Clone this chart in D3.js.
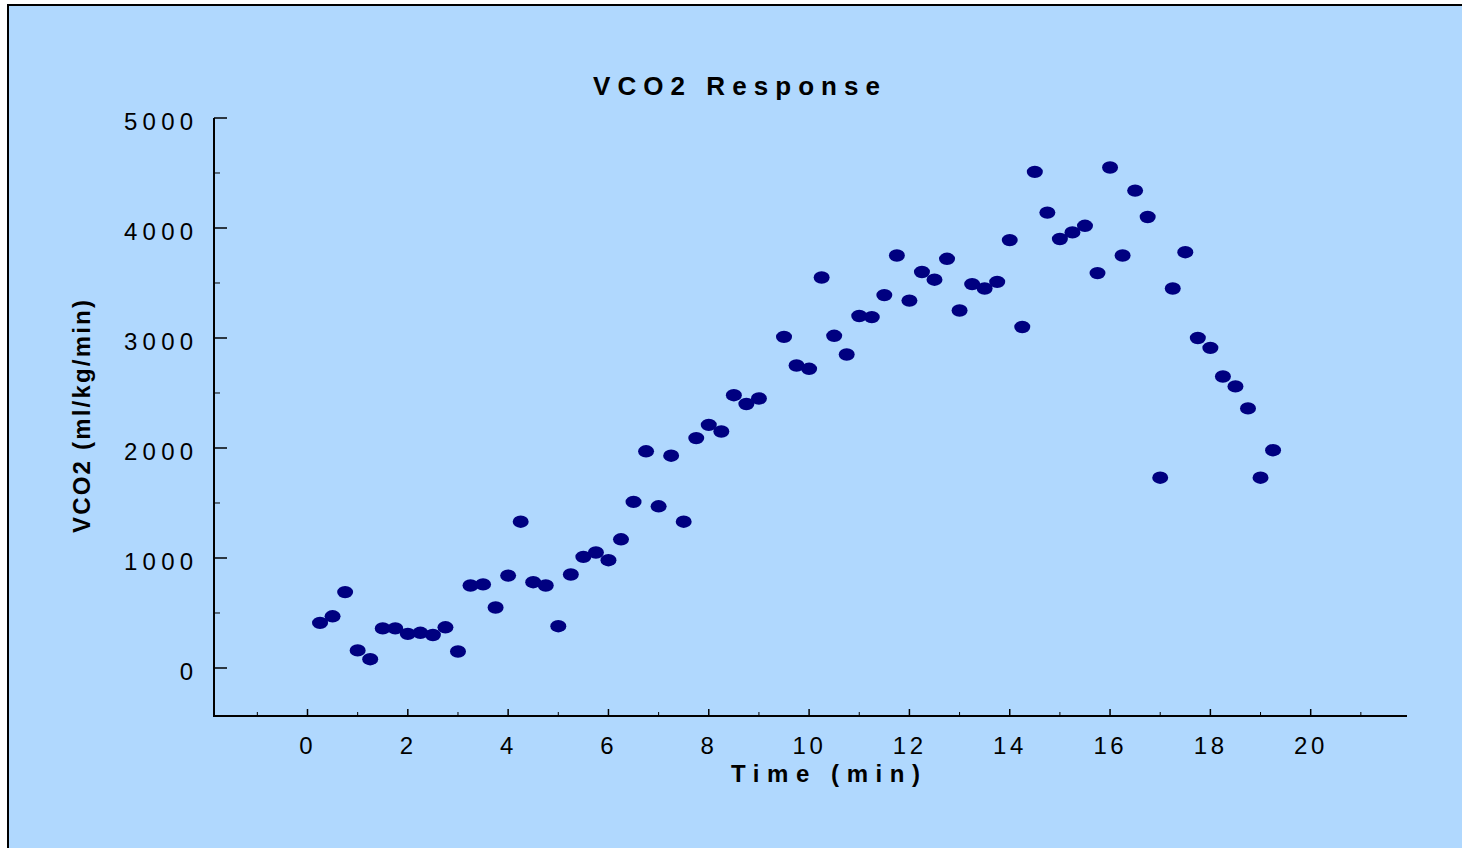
<!DOCTYPE html>
<html>
<head>
<meta charset="utf-8">
<script src="https://cdn.jsdelivr.net/npm/d3@7"></script>
<style>
  html, body { margin: 0; padding: 0; background: #ffffff; }
  svg { display: block; }
  text { font-family: "Liberation Sans Narrow", "Liberation Sans", Arial, sans-serif; fill: #000; }
</style>
</head>
<body>
<svg id="chart" width="1462" height="848"></svg>
<script>
// ---- data ----
const times = [0.25,0.5,0.75,1.0,1.25,1.5,1.75,2.0,2.25,2.5,2.75,3.0,3.25,3.5,3.75,4.0,4.25,4.5,4.75,5.0,
  5.25,5.5,5.75,6.0,6.25,6.5,6.75,7.0,7.25,7.5,7.75,8.0,8.25,8.5,8.75,9.0,
  9.5,9.75,10.0,10.25,10.5,10.75,11.0,11.25,11.5,11.75,12.0,12.25,12.5,12.75,13.0,13.25,13.5,13.75,14.0,14.25,
  14.5,14.75,15.0,15.25,15.5,15.75,16.0,16.25,16.5,16.75,17.0,17.25,17.5,17.75,18.0,18.25,18.5,18.75,19.0,19.25];
const vco2 = [410,470,690,160,80,360,360,310,320,300,370,150,750,760,550,840,1330,780,750,380,
  850,1010,1050,980,1170,1510,1970,1470,1930,1330,2090,2210,2150,2480,2400,2450,
  3010,2750,2720,3550,3020,2850,3200,3190,3390,3750,3340,3600,3530,3720,3250,3490,3450,3510,3890,3100,
  4510,4140,3900,3960,4020,3590,4550,3750,4340,4100,1730,3450,3780,3000,2910,2650,2560,2360,1730,1980];
const yTicks = [0,1000,2000,3000,4000,5000];
const yMinorTicks = [500,1500,2500,3500,4500];
const xTicks = [0,2,4,6,8,10,12,14,16,18,20];
const xMinorTicks = [-1,1,3,5,7,9,11,13,15,17,19,21];
const titleText = "VCO2 Response";
const xLabelText = "Time (min)";
const yLabelText = "VCO2 (ml/kg/min)";

// ---- layout ----
const svg = d3.select("#chart");
const plotL = 214, plotR = 1407, plotT = 118, plotB = 716;
const x = d3.scaleLinear().domain([-1.864, 21.92]).range([plotL, plotR]);
const y = d3.scaleLinear().domain([-436.4, 5000]).range([plotB, plotT]);

// background + border
svg.append("rect").attr("x", 8).attr("y", 5).attr("width", 1470).attr("height", 860)
  .attr("fill", "#B0D8FE").attr("stroke", "#000").attr("stroke-width", 2);

// title
svg.append("text").attr("x", 593).attr("y", 95)
  .attr("font-size", 26).attr("font-weight", "bold")
  .attr("textLength", 287).attr("lengthAdjust", "spacing")
  .text(titleText);

// axes lines
svg.append("line").attr("x1", plotL).attr("x2", plotL).attr("y1", plotT).attr("y2", plotB + 1)
  .attr("stroke", "#000").attr("stroke-width", 2);
svg.append("line").attr("x1", plotL - 1).attr("x2", plotR).attr("y1", plotB).attr("y2", plotB)
  .attr("stroke", "#000").attr("stroke-width", 2);

// y ticks
svg.append("g").selectAll("line").data(yTicks).join("line")
  .attr("x1", plotL).attr("x2", plotL + 13)
  .attr("y1", d => y(d)).attr("y2", d => y(d))
  .attr("stroke", "#000").attr("stroke-width", 1.5);
svg.append("g").selectAll("line").data(yMinorTicks).join("line")
  .attr("x1", plotL).attr("x2", plotL + 6)
  .attr("y1", d => y(d)).attr("y2", d => y(d))
  .attr("stroke", "#000").attr("stroke-width", 1);
svg.append("g").selectAll("text").data(yTicks).join("text")
  .attr("x", 193).attr("y", d => y(d) + 12)
  .attr("text-anchor", "end").attr("font-size", 24)
  .each(function(d) {
    const s = String(d);
    const el = d3.select(this).text(s);
    if (s.length > 1) el.attr("textLength", 19.3 * (s.length - 1) + 11).attr("lengthAdjust", "spacing");
  });

// x ticks
svg.append("g").selectAll("line").data(xTicks).join("line")
  .attr("x1", d => x(d)).attr("x2", d => x(d))
  .attr("y1", plotB).attr("y2", plotB - 7)
  .attr("stroke", "#000").attr("stroke-width", 1.5);
svg.append("g").selectAll("line").data(xMinorTicks).join("line")
  .attr("x1", d => x(d)).attr("x2", d => x(d))
  .attr("y1", plotB).attr("y2", plotB - 4)
  .attr("stroke", "#000").attr("stroke-width", 1);
svg.append("g").selectAll("text").data(xTicks).join("text")
  .attr("x", d => x(d) - 1.5).attr("y", 754)
  .attr("text-anchor", "middle").attr("font-size", 24)
  .each(function(d) {
    const s = String(d);
    const el = d3.select(this).text(s);
    if (s.length > 1) el.attr("textLength", 19.3 * (s.length - 1) + 11).attr("lengthAdjust", "spacing");
  });

// axis titles
svg.append("text").attr("x", 731).attr("y", 782)
  .attr("font-size", 24).attr("font-weight", "bold")
  .attr("textLength", 189).attr("lengthAdjust", "spacing")
  .text(xLabelText);
svg.append("text").attr("transform", "translate(90,533) rotate(-90)")
  .attr("font-size", 24).attr("font-weight", "bold")
  .attr("textLength", 233).attr("lengthAdjust", "spacing")
  .text(yLabelText);

// points
svg.append("g").selectAll("ellipse").data(times.map((t, i) => [t, vco2[i]])).join("ellipse")
  .attr("cx", d => x(d[0])).attr("cy", d => y(d[1]))
  .attr("rx", 8).attr("ry", 6.2)
  .attr("fill", "#000080");
</script>
</body>
</html>
